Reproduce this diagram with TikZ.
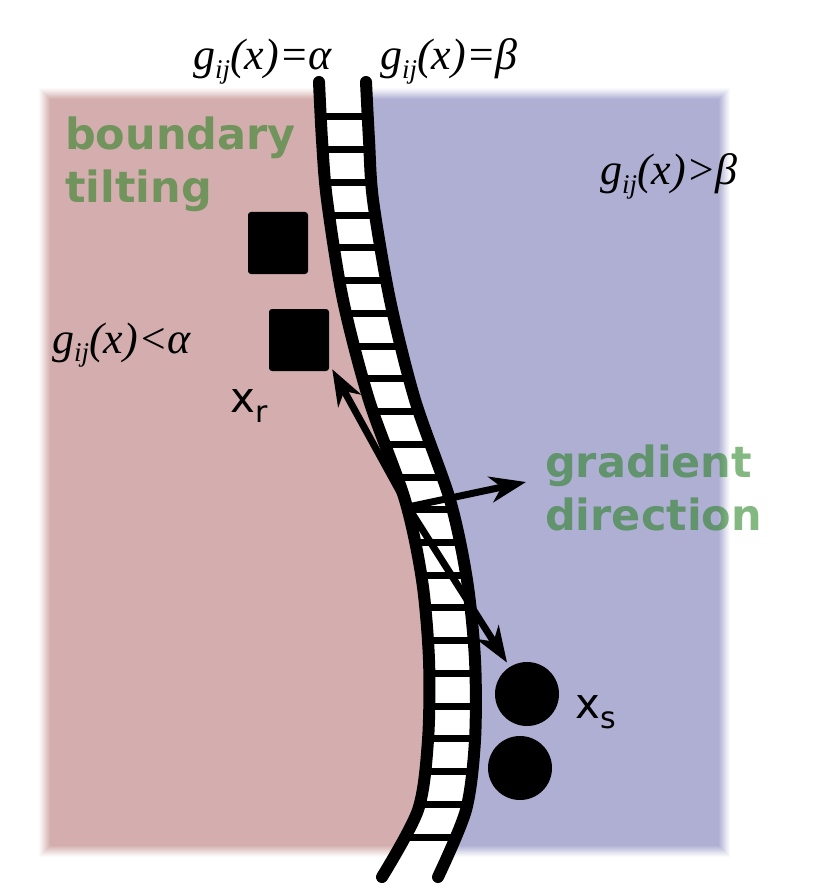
\documentclass[tikz,border=0pt]{standalone}
\usepackage{fontspec}
\setmainfont{DejaVu Sans}
\newfontfamily\lib{Liberation Serif}
\usetikzlibrary{arrows.meta}
\definecolor{pinkreg}{RGB}{212,174,174}
\definecolor{bluereg}{RGB}{175,175,212}
\definecolor{lblgreen}{RGB}{36,128,30}
\newcommand\gij{\textit{g}\raisebox{-0.2em}{\fontsize{27}{27}\selectfont\itshape ij}}
\begin{document}
\begin{tikzpicture}[x=1pt,y=-1pt,
  rail/.style={line width=12pt,line cap=round,black},
  rung/.style={line width=7pt,black},
  arr/.style={line width=7pt,black,-{Stealth[length=36pt,width=26pt,inset=11pt]}},
  sq/.style={fill=black,rounded corners=3pt,minimum width=60pt,minimum height=62pt,inner sep=0pt},
  dot/.style={circle,fill=black,minimum size=64pt,inner sep=0pt},
  green/.style={text=lblgreen,text opacity=0.56,font=\bfseries\fontsize{43}{53}\selectfont,align=left,anchor=base west,inner sep=0pt},
  mlab/.style={font=\lib\itshape\fontsize{44}{44}\selectfont,anchor=base west,inner sep=0pt},
  xlab/.style={font=\fontsize{42}{42}\selectfont,anchor=base west,inner sep=0pt}]
\useasboundingbox (0,0) rectangle (813,890);

% soft-edged regions
\foreach \e/\p in {8/6,7/13,6/21,5/29,4/38,3/47,2/56,1/65,0/74,-1/83,-2/91,-3/100}{
  \begin{scope}
    \clip ({47-\e},{97-\e}) rectangle ({722+\e},{848+\e});
    \fill[bluereg!\p!white] (0,0) rectangle (813,890);
    \fill[pinkreg!\p!white] (0,60) -- (319,60) -- plot[smooth] coordinates {(319,82) (322,140) (327,200) (343,300) (369,400) (405,500) (422,580) (429,660) (428,740) (418,810) (382,877)} -- (370,900) -- (0,900) -- cycle;
  \end{scope}
}

% ladder interior
\fill[white] plot[smooth] coordinates {(319,82) (322,140) (327,200) (343,300) (369,400) (405,500) (422,580) (429,660) (428,740) (418,810) (382,877)}
  -- plot[smooth] coordinates {(438,877) (466,810) (475,740) (475,660) (467,580) (450,500) (415,400) (390,300) (373,200) (369,140) (366,82)} -- cycle;
\begin{scope}
  \clip plot[smooth] coordinates {(319,82) (322,140) (327,200) (343,300) (369,400) (405,500) (422,580) (429,660) (428,740) (418,810) (382,877)}
  -- plot[smooth] coordinates {(438,877) (466,810) (475,740) (475,660) (467,580) (450,500) (415,400) (390,300) (373,200) (369,140) (366,82)} -- cycle;
  \foreach \k in {0,...,22}{
    \draw[rung] (290,{117+32.73*\k}) -- (520,{117+32.73*\k});
  }
\end{scope}
\draw[rail] plot[smooth] coordinates {(319,82) (322,140) (327,200) (343,300) (369,400) (405,500) (422,580) (429,660) (428,740) (418,810) (382,877)};
\draw[rail] plot[smooth] coordinates {(366,82) (369,140) (373,200) (390,300) (415,400) (450,500) (467,580) (475,660) (475,740) (466,810) (438,877)};

% samples
\node[sq] (s1) at (278,243) {};
\node[sq] (s2) at (299,340) {};
\node[dot] (c1) at (527,694) {};
\node[dot] (c2) at (520,768) {};

% arrows
\coordinate (o) at (408,507);
\coordinate (g) at (526,482);
\draw[arr] (o) -- ([shift={(3,-2)}]s2.south east);
\draw[arr,shorten >=5pt] (o) -- (c1);
\draw[arr] (o) -- (g);

% labels
\node[mlab] (la) at (193,70) {\gij(\textit{x})=\textit{α}};
\node[mlab] (lb) at (380,70) {\gij(\textit{x})=\textit{β}};
\node[mlab] (lless) at (52,353) {\gij(\textit{x})<\textit{α}};
\node[mlab] (lmore) at (600,185) {\gij(\textit{x})>\textit{β}};
\node[green] (bt) at (65,203) {boundary\\tilting};
\node[green] (gd) at (545,530) {gradient\\direction};
\node[xlab] (xr) at (230,412) {x\raisebox{-10pt}{\fontsize{30}{30}\selectfont r}};
\node[xlab] (xs) at (575,718) {x\raisebox{-10pt}{\fontsize{30}{30}\selectfont s}};
\end{tikzpicture}
\end{document}
